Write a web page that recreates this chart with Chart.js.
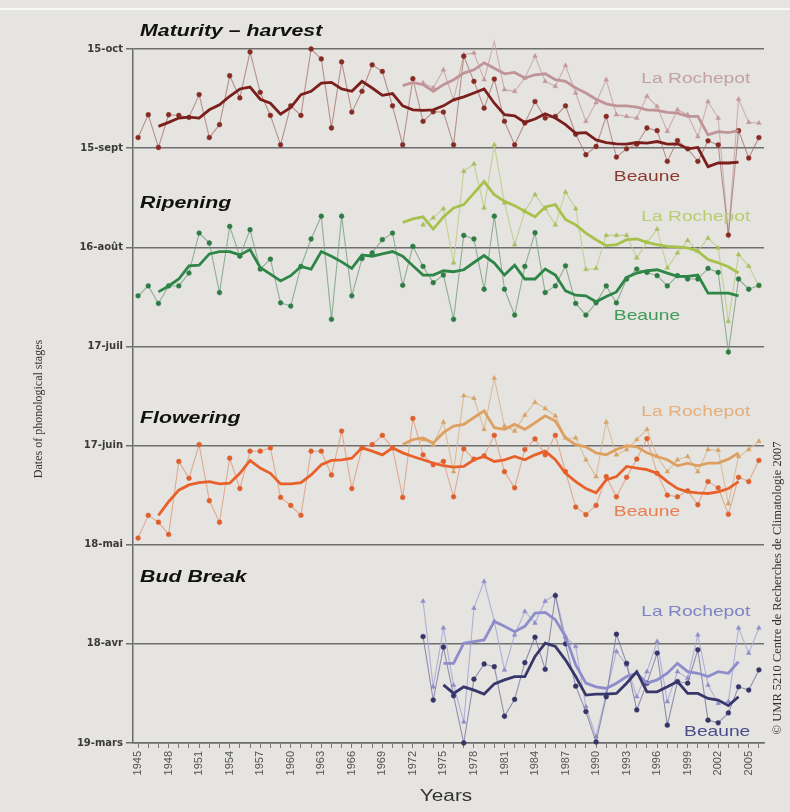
<!DOCTYPE html>
<html>
<head>
<meta charset="utf-8">
<title>Phenological stages – Beaune / La Rochepot</title>
<script src="https://cdn.jsdelivr.net/npm/chart.js@4.4.0/dist/chart.umd.min.js"></script>
<style>
  html, body { margin: 0; padding: 0; background: #e6e4e1; }
  #wrap { position: relative; width: 790px; height: 812px; }
  #topline { position: absolute; left: 0; top: 8px; width: 790px; height: 2px; background: #f8f8f7; }
  canvas { position: absolute; left: 0; top: 0; }
</style>
</head>
<body>
<div id="wrap">
  <div id="topline"></div>
  <canvas id="phenoChart"></canvas>
</div>
<script>
// day-of-year gridlines and their labels
const dateTicks = [78, 108, 138, 168, 198, 228, 258, 288];
const dateLabels = ['19-mars', '18-avr', '18-mai', '17-juin', '17-juil', '16-août', '15-sept', '15-oct'];
const labelYears = [1945, 1948, 1951, 1954, 1957, 1960, 1963, 1966, 1969, 1972, 1975,
                    1978, 1981, 1984, 1987, 1990, 1993, 1996, 1999, 2002, 2005];

// Maturity - harvest (day of year)
const harvestBeaune = [261.2, 268.1, 258.2, 268.1, 267.9, 267.3, 274.2, 261.2, 265.1, 279.9,
  273.2, 287.1, 274.9, 267.9, 259.0, 270.8, 267.9, 288.0, 285.0, 264.1,
  284.1, 268.9, 275.2, 283.2, 281.2, 270.8, 259.0, 279.0, 266.1, 269.0,
  268.9, 259.0, 285.8, 278.2, 270.1, 278.9, 266.1, 259.0, 265.6, 272.1,
  267.1, 267.6, 270.8, 262.2, 256.0, 258.5, 267.6, 255.3, 257.8, 259.2,
  264.1, 263.3, 254.0, 260.3, 257.8, 254.0, 260.2, 259.0, 231.7, 263.3,
  255.0, 261.2];                                   // 1945-2006
const harvestBeauneAvg = [264.6, 265.8, 267.1, 267.4, 267.1, 269.6, 271.1, 273.7, 275.9, 276.5,
  272.8, 271.6, 268.3, 270.3, 274.2, 275.2, 277.7, 277.9, 275.9, 275.2,
  278.2, 276.2, 274.0, 274.5, 270.8, 269.6, 269.4, 269.6, 270.8, 272.6,
  273.5, 274.7, 275.9, 271.6, 268.1, 267.8, 265.8, 266.8, 268.4, 267.1,
  265.1, 262.5, 262.7, 260.5, 259.7, 259.3, 259.2, 259.7, 259.5, 260.0,
  259.2, 259.3, 257.8, 258.2, 252.4, 253.5, 253.5, 253.8];   // 1947-2004
const harvestRoch = [277.7, 276.2, 281.7, 272.6, 286.3, 286.8, 278.7, 290.3, 275.7, 275.2,
  279.2, 285.8, 278.2, 276.7, 283.0, 274.7, 266.1, 271.8, 278.7, 268.1,
  267.6, 267.1, 273.7, 270.6, 263.1, 269.6, 268.1, 261.5, 272.1, 267.1,
  232.0, 272.8, 265.8, 265.6];                     // 1973-2006
const harvestRochAvg = [276.9, 277.9, 277.2, 275.2, 277.2, 278.7, 280.7, 281.7, 283.8, 282.2,
  280.5, 280.9, 279.2, 280.2, 280.5, 278.7, 278.2, 276.2, 274.7, 272.8,
  271.4, 270.8, 270.8, 270.4, 269.6, 269.4, 268.8, 268.6, 267.6, 267.6,
  262.0, 263.0, 262.7, 263.3];                     // 1971-2004

// Ripening (veraison)
const ripenBeaune = [213.3, 216.3, 211.0, 216.3, 216.3, 220.2, 232.3, 229.3, 214.3, 234.3,
  225.3, 233.3, 221.4, 224.4, 211.2, 210.2, 222.2, 230.5, 237.4, 206.2,
  237.4, 213.3, 224.6, 226.3, 230.3, 232.3, 216.5, 228.3, 222.2, 217.3,
  219.6, 206.2, 231.6, 230.5, 215.3, 237.4, 215.3, 207.5, 222.2, 232.4,
  214.3, 216.3, 222.4, 211.0, 207.5, 211.2, 216.3, 211.2, 218.4, 221.4,
  220.4, 219.4, 216.3, 219.4, 218.4, 218.4, 221.6, 220.4, 196.3, 218.4,
  215.3, 216.5];
const ripenBeauneAvg = [214.5, 216.3, 218.4, 222.4, 222.6, 226.0, 226.7, 226.7, 225.7, 227.3,
  221.9, 219.9, 217.8, 219.4, 222.2, 221.4, 226.7, 225.3, 223.6, 221.6,
  225.7, 225.3, 226.0, 226.7, 225.3, 222.4, 219.6, 219.6, 220.9, 220.6,
  221.2, 223.4, 225.5, 223.2, 219.6, 222.6, 218.4, 218.4, 221.4, 219.6,
  214.8, 213.5, 213.3, 211.5, 213.1, 214.5, 218.9, 220.2, 220.9, 221.2,
  220.2, 219.2, 219.2, 219.6, 214.1, 214.1, 214.1, 213.3];
const ripenRoch = [234.8, 236.9, 239.7, 223.3, 251.0, 253.2, 239.9, 259.0, 241.4, 228.8,
  238.9, 243.9, 239.7, 234.8, 244.7, 239.7, 221.3, 221.6, 231.6, 231.6,
  231.6, 224.8, 229.5, 233.5, 221.8, 226.3, 230.1, 226.8, 230.8, 227.8,
  205.6, 225.8, 222.3, 216.2];
const ripenRochAvg = [235.5, 236.6, 237.2, 233.5, 237.2, 239.9, 240.9, 244.4, 247.9, 243.9,
  241.9, 240.6, 238.9, 237.2, 240.2, 240.9, 236.4, 234.8, 232.3, 230.3,
  228.5, 228.8, 230.3, 230.5, 229.5, 228.8, 228.3, 228.1, 227.8, 226.8,
  224.3, 223.3, 222.1, 220.2];

// Flowering
const flowerBeaune = [140.0, 146.9, 144.8, 141.1, 163.2, 158.1, 168.3, 151.3, 144.8, 164.2,
  155.0, 166.3, 166.3, 167.3, 152.3, 149.9, 146.9, 166.3, 166.3, 159.1,
  172.4, 155.0, 167.3, 168.3, 171.1, 167.3, 152.3, 176.2, 165.2, 162.2,
  163.2, 152.5, 167.0, 163.9, 164.9, 171.1, 160.1, 155.2, 166.8, 170.0,
  165.2, 171.1, 160.1, 149.4, 147.1, 149.9, 158.6, 152.5, 158.4, 163.9,
  170.1, 159.6, 153.0, 152.5, 154.3, 150.1, 157.1, 155.2, 147.2, 158.4,
  157.1, 163.5];
const flowerBeauneAvg = [146.9, 151.0, 154.5, 156.1, 156.8, 157.1, 156.4, 156.6, 159.6, 163.5,
  161.2, 159.6, 156.4, 156.4, 156.8, 159.1, 162.2, 163.5, 163.7, 164.2,
  167.3, 166.3, 165.2, 167.3, 165.8, 164.7, 163.7, 162.7, 161.9, 161.5,
  161.7, 163.7, 164.7, 163.2, 163.7, 164.7, 163.7, 165.2, 166.3, 163.7,
  159.6, 157.1, 155.0, 153.7, 157.6, 158.6, 161.7, 161.2, 160.7, 159.6,
  157.1, 155.0, 154.0, 153.7, 153.5, 154.0, 155.0, 157.1];
const flowerRoch = [169.8, 168.3, 175.1, 160.1, 183.1, 182.3, 172.9, 188.4, 173.9, 172.4,
  177.2, 181.1, 179.2, 177.0, 170.3, 170.3, 163.7, 158.6, 175.1, 165.2,
  166.8, 169.8, 172.9, 164.7, 160.1, 163.7, 164.7, 160.1, 166.8, 166.6,
  150.4, 164.7, 166.8, 169.3];
const flowerRochAvg = [168.3, 169.8, 170.3, 168.8, 171.9, 173.9, 174.4, 176.5, 178.5, 173.4,
  172.9, 174.4, 172.9, 174.9, 177.0, 175.4, 170.3, 168.3, 167.6, 165.8,
  165.2, 166.8, 168.0, 167.6, 165.8, 164.7, 163.7, 161.9, 162.7, 161.9,
  162.7, 162.7, 163.9, 165.8];

// Bud break (1973-2006, averages 1975-2004)
const budBeaune = [110.2, 91.0, 107.0, 92.3, 78.0, 97.3, 101.9, 101.1, 86.1, 91.2,
  102.3, 110.0, 100.3, 122.6, 108.0, 95.2, 87.5, 78.3, 92.0, 110.9,
  102.1, 88.0, 96.1, 105.2, 83.4, 96.6, 96.1, 106.2, 84.9, 84.1,
  87.1, 95.0, 94.0, 100.1];
const budBeauneAvg = [95.6, 93.0, 95.0, 94.0, 92.8, 95.9, 97.1, 98.1, 98.1, 104.2,
  108.2, 107.2, 103.1, 98.1, 92.5, 92.8, 92.8, 93.0, 96.1, 99.6,
  93.5, 93.5, 95.0, 96.6, 93.0, 93.0, 91.5, 91.0, 89.3, 92.0];
const budRoch = [120.9, 95.0, 112.8, 95.5, 84.4, 118.8, 126.9, 114.8, 100.1, 110.7,
  117.8, 114.3, 120.9, 122.9, 110.2, 107.2, 89.0, 79.9, 93.0, 105.7,
  101.6, 92.0, 99.6, 108.7, 90.5, 99.6, 97.6, 110.7, 95.5, 90.0,
  90.5, 112.8, 105.2, 112.8];
const budRochAvg = [102.1, 102.1, 108.2, 108.7, 109.2, 114.8, 113.3, 111.7, 113.3, 117.3,
  117.5, 115.3, 110.2, 101.6, 96.1, 95.0, 94.5, 96.1, 98.1, 99.1,
  96.1, 97.1, 99.1, 102.1, 99.6, 99.1, 98.1, 99.6, 99.1, 102.6];

const stageTitles = ['Maturity \u2013 harvest', 'Ripening', 'Flowering', 'Bud Break'];
const stageTitleDays = [293.4, 241.2, 176.3, 128.1];

function series(start, values) {
  return values.map((v, i) => ({ x: start + i, y: v }));
}

function rawLine(start, values, lineColor, pointColor, shape) {
  return {
    data: series(start, values),
    borderColor: lineColor,
    borderWidth: 1.1,
    pointStyle: shape,
    pointRadius: shape === 'triangle' ? 2.7 : 2.4,
    pointBackgroundColor: pointColor,
    pointBorderColor: pointColor,
    pointBorderWidth: 0.5,
    tension: 0,
    clip: false,
    order: 2
  };
}

function avgLine(start, values, color) {
  return {
    data: series(start, values),
    borderColor: color,
    borderWidth: 2.8,
    pointRadius: 0,
    tension: 0,
    clip: false,
    order: 1
  };
}

const datasets = [
  avgLine(1947, harvestBeauneAvg, '#7a1f1b'),
  avgLine(1971, harvestRochAvg, '#c09496'),
  avgLine(1947, ripenBeauneAvg, '#2e8646'),
  avgLine(1971, ripenRochAvg, '#a6c24b'),
  avgLine(1947, flowerBeauneAvg, '#e8612b'),
  avgLine(1971, flowerRochAvg, '#dea061'),
  avgLine(1975, budBeauneAvg, '#37376b'),
  avgLine(1975, budRochAvg, '#8d8dcc'),
  rawLine(1945, harvestBeaune, 'rgba(165,115,110,0.75)', '#862a24', 'circle'),
  rawLine(1973, harvestRoch, 'rgba(200,165,165,0.85)', '#c3999b', 'triangle'),
  rawLine(1945, ripenBeaune, 'rgba(120,160,130,0.8)', '#2f7b45', 'circle'),
  rawLine(1973, ripenRoch, 'rgba(190,205,140,0.9)', '#a9bf5a', 'triangle'),
  rawLine(1945, flowerBeaune, 'rgba(220,160,130,0.85)', '#df5f2c', 'circle'),
  rawLine(1973, flowerRoch, 'rgba(215,185,145,0.9)', '#d8a265', 'triangle'),
  rawLine(1973, budBeaune, 'rgba(120,120,160,0.8)', '#343466', 'circle'),
  rawLine(1973, budRoch, 'rgba(170,170,215,0.9)', '#8e8ecb', 'triangle')
];

// station names next to their curves: [text, year, day, colour]
const siteLabels = [
  ['La Rochepot', 1999.8, 279.0, '#c3a0a2'],
  ['Beaune', 1995.0, 249.2, '#8c3a2f'],
  ['La Rochepot', 1999.8, 237.1, '#b7cd70'],
  ['Beaune', 1995.0, 207.3, '#3f9a5a'],
  ['La Rochepot', 1999.8, 178.1, '#e6ae7a'],
  ['Beaune', 1995.0, 147.9, '#ea7d4e'],
  ['La Rochepot', 1999.8, 117.6, '#7f83c2'],
  ['Beaune', 2001.9, 81.3, '#4c4b8c']
];

function wideText(ctx, str, px, py, font, color, align, sx, angle) {
  ctx.save();
  ctx.translate(px, py);
  if (angle) ctx.rotate(angle);
  ctx.scale(sx, 1);
  ctx.font = font;
  ctx.fillStyle = color;
  ctx.textAlign = align;
  ctx.textBaseline = 'middle';
  ctx.fillText(str, 0, 0);
  ctx.restore();
}

const textLayer = {
  id: 'textLayer',
  afterDatasetsDraw(chart) {
    const { ctx, scales: { x, y } } = chart;
    stageTitles.forEach((t, i) => {
      wideText(ctx, t, x.getPixelForValue(1945.2), y.getPixelForValue(stageTitleDays[i]),
        'italic bold 16px "Liberation Sans", Arial, sans-serif', '#111', 'left', 1.33);
    });
    siteLabels.forEach(([t, yr, d, c]) => {
      wideText(ctx, t, x.getPixelForValue(yr), y.getPixelForValue(d),
        '15px "Liberation Sans", Arial, sans-serif', c, 'center', 1.28);
    });
    wideText(ctx, 'Years', 446, 797, '16px "Liberation Sans", Arial, sans-serif', '#333', 'center', 1.3);
    wideText(ctx, 'Dates of phonological stages', 38.5, 409,
      '12px "Liberation Serif", "Times New Roman", serif', '#333', 'center', 1, -Math.PI / 2);
    wideText(ctx, '\u00a9 UMR 5210 Centre de Recherches de Climatologie 2007', 778, 588,
      '12.5px "Liberation Serif", "Times New Roman", serif', '#333', 'center', 1, -Math.PI / 2);
  }
};

new Chart(document.getElementById('phenoChart'), {
  type: 'line',
  data: { datasets },
  plugins: [textLayer],
  options: {
    responsive: true,
    maintainAspectRatio: false,
    animation: false,
    events: [],
    layout: { padding: { left: 0, right: 26, top: 49, bottom: 0 } },
    plugins: { legend: { display: false }, tooltip: { enabled: false } },
    scales: {
      x: {
        type: 'linear',
        min: 1944.5,
        max: 2006.5,
        afterBuildTicks: s => {
          const t = [];
          for (let yr = 1945; yr <= 2006; yr++) t.push({ value: yr });
          s.ticks = t;
        },
        afterFit: s => { s.height = 69; },
        ticks: {
          autoSkip: false,
          maxRotation: 90,
          minRotation: 90,
          padding: 3,
          color: '#555',
          font: { family: '"Liberation Sans", Arial, sans-serif', size: 11 },
          callback: v => labelYears.includes(v) ? String(v) : ''
        },
        grid: { drawOnChartArea: false, tickLength: 5, color: '#777', lineWidth: 1 },
        border: { color: '#6c6c6c', width: 1.5 }
      },
      y: {
        min: 78,
        max: 288,
        afterBuildTicks: s => { s.ticks = dateTicks.map(v => ({ value: v })); },
        afterFit: s => { s.width = 133; },
        ticks: {
          padding: 3,
          color: '#3a3a3a',
          font: { family: '"DejaVu Sans", sans-serif', size: 10, weight: 'bold' },
          callback: v => dateLabels[dateTicks.indexOf(v)]
        },
        grid: { color: '#6e6e6e', lineWidth: 1.5, tickLength: 7 },
        border: { color: '#6a6a6a', width: 1.5 }
      }
    }
  }
});
</script>
</body>
</html>
